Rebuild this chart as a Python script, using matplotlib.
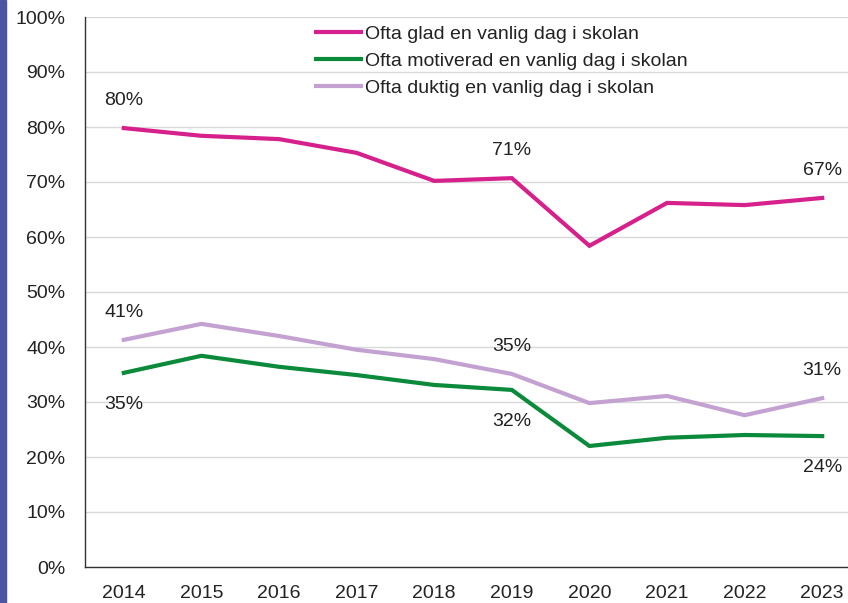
import matplotlib
matplotlib.use("Agg")
import matplotlib.pyplot as plt
from matplotlib.patches import Rectangle

plt.rcParams['font.family'] = ['Liberation Sans', 'DejaVu Sans']

years = ["2014", "2015", "2016", "2017", "2018", "2019", "2020", "2021", "2022", "2023"]
glad = [79.8, 78.4, 77.8, 75.3, 70.2, 70.7, 58.4, 66.2, 65.8, 67.1]
motiverad = [35.3, 38.4, 36.4, 34.9, 33.1, 32.2, 22.0, 23.5, 24.0, 23.8]
duktig = [41.3, 44.2, 42.0, 39.5, 37.8, 35.1, 29.8, 31.1, 27.6, 30.7]
series_names = ["Ofta glad en vanlig dag i skolan",
                "Ofta motiverad en vanlig dag i skolan",
                "Ofta duktig en vanlig dag i skolan"]
colors = ["#D6218C", "#0B8A3B", "#C3A2D2"]

# labelled points: (series index, year index, text, above?)
labels = [
    (0, 0, "80%", True), (0, 5, "71%", True), (0, 9, "67%", True),
    (2, 0, "41%", True), (2, 5, "35%", True), (2, 9, "31%", True),
    (1, 0, "35%", False), (1, 5, "32%", False), (1, 9, "24%", False),
]
yticks = list(range(0, 101, 10))
ytick_labels = [f"{v}%" for v in yticks]

W, H = 848, 603
fig = plt.figure(figsize=(W / 100, H / 100), dpi=100)
fig.patches.append(Rectangle((0, 0), 6 / W, 1, transform=fig.transFigure,
                             color="#4E55A2", zorder=0))

left, right, bottom, top = 85, 861, 567, 17
ax = fig.add_axes([left / W, (H - bottom) / H, (right - left) / W, (bottom - top) / H])

x = list(range(len(years)))
data = [glad, motiverad, duktig]
for vals, c, name in zip(data, colors, series_names):
    ax.plot(x, vals, color=c, lw=3.0, label=name, solid_joinstyle="miter", zorder=3)

for si, yi, txt, above in labels:
    v = data[si][yi]
    off = 20 if above else -22.5
    ax.annotate(txt, (yi, v), xytext=(0, off), textcoords="offset points",
                ha="center", va="center", fontsize=14, color="#222222")

ax.set_xlim(-0.5, 9.5)
ax.set_ylim(0, 100)
ax.set_yticks(yticks)
ax.set_yticklabels(ytick_labels)
ax.set_xticks(x)
ax.set_xticklabels(years)
ax.tick_params(axis="both", length=0, labelsize=14, colors="#222222")
ax.tick_params(axis="y", pad=14)
ax.tick_params(axis="x", pad=13)
ax.grid(axis="y", color="#D9D9D9", lw=1)
ax.set_axisbelow(True)
for s in ["top", "right"]:
    ax.spines[s].set_visible(False)
ax.spines["left"].set_color("#333333")
ax.spines["bottom"].set_color("#333333")
ax.spines["left"].set_linewidth(1)
ax.spines["bottom"].set_linewidth(1)

leg = ax.legend(loc="upper left", bbox_to_anchor=((308 - left) / (right - left), 1.0 - 0.5 / (bottom - top)),
                frameon=False, fontsize=14, handlelength=2.3, handletextpad=0.25,
                labelspacing=0.48, borderaxespad=0)
for t in leg.get_texts():
    t.set_color("#222222")

fig.savefig("out.png", dpi=100)
